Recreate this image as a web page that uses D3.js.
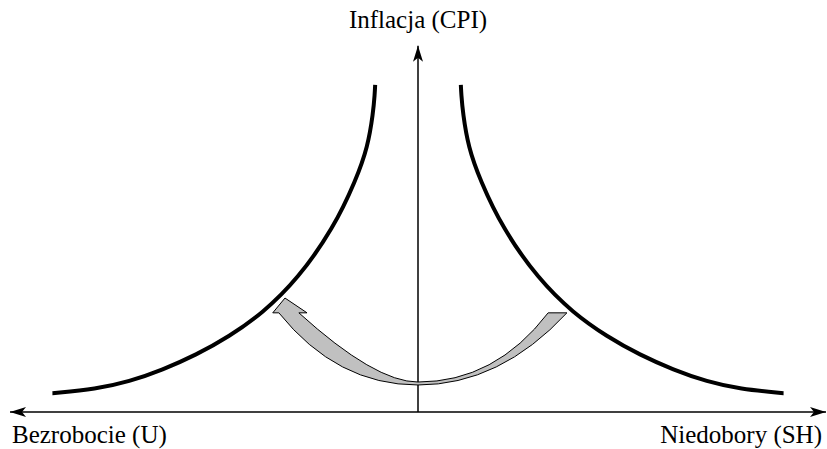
<!DOCTYPE html>
<html>
<head>
<meta charset="utf-8">
<script src="https://cdn.jsdelivr.net/npm/d3@7"></script>
<style>
  html, body { margin: 0; padding: 0; background: #fff; }
  svg { display: block; }
  text { font-family: "Liberation Serif", "DejaVu Serif", serif; fill: #000; }
</style>
</head>
<body>
<div id="chart"></div>
<script>
// curve readings (data units: x = left/right of the CPI axis, y = height above the U/SH axis)
const rightCurveX = [1.05, 1.06, 1.10, 1.23, 1.52, 2.07, 2.95, 3.81, 4.63, 5.44, 6.26, 7.08, 7.89, 8.95, 8.96];
const rightCurveY = [8.84, 8.60, 8.08, 7.17, 6.27, 4.97, 3.59, 2.67, 2.04, 1.54, 1.14, 0.82, 0.62, 0.51, 0.51];
const leftCurveX = [-8.96, -8.95, -7.89, -7.08, -6.26, -5.44, -4.63, -3.81, -2.95, -2.07, -1.52, -1.23, -1.10, -1.06, -1.05];
const leftCurveY = [0.51, 0.51, 0.62, 0.82, 1.14, 1.54, 2.04, 2.67, 3.59, 4.97, 6.27, 7.17, 8.08, 8.60, 8.84];

// grey swoosh arrow: outer / inner edges, control points, arrowhead
const swooshOuter = [[3.65, 2.68], [2.01, 0.73], [0, 0.73], [-1.99, 0.73], [-3.41, 2.68]];
const swooshInner = [[-2.92, 2.68], [-1.05, 0.81], [0, 0.81], [1.89, 0.81], [3.19, 2.68]];
const swooshHead = [[-3.56, 2.68], [-3.26, 3.08], [-2.72, 2.68]];

const axisLabels = ["Inflacja (CPI)", "Bezrobocie (U)", "Niedobory (SH)"];

const width = 827, height = 449;
const svg = d3.select("#chart").append("svg")
  .attr("width", width).attr("height", height);

const x = d3.scaleLinear().domain([-10, 10]).range([10, 826]);
const y = d3.scaleLinear().domain([0, 10]).range([412, 42]);

// arrow markers for the axes
const defs = svg.append("defs");
defs.append("marker")
  .attr("id", "ah")
  .attr("viewBox", "0 0 16 10")
  .attr("refX", 16).attr("refY", 5)
  .attr("markerUnits", "userSpaceOnUse")
  .attr("markerWidth", 16).attr("markerHeight", 10)
  .attr("orient", "auto-start-reverse")
  .append("path")
  .attr("d", "M0,0 L16,5 L0,10 L4,5 Z")
  .attr("fill", "#000");

// horizontal axis (both ways)
svg.append("line")
  .attr("x1", x(-10)).attr("x2", x(10))
  .attr("y1", y(0)).attr("y2", y(0))
  .attr("stroke", "#000").attr("stroke-width", 1.5)
  .attr("marker-start", "url(#ah)")
  .attr("marker-end", "url(#ah)");

// vertical axis
svg.append("line")
  .attr("x1", x(0)).attr("x2", x(0))
  .attr("y1", y(0)).attr("y2", y(9.9))
  .attr("stroke", "#000").attr("stroke-width", 1.5)
  .attr("marker-end", "url(#ah)");

// curves (B-spline to smooth out reading jitter)
const line = d3.line()
  .x(d => x(d[0])).y(d => y(d[1]))
  .curve(d3.curveBasis);

[d3.zip(leftCurveX, leftCurveY), d3.zip(rightCurveX, rightCurveY)].forEach(pts => {
  svg.append("path")
    .attr("d", line(pts))
    .attr("fill", "none")
    .attr("stroke", "#000")
    .attr("stroke-width", 4);
});

// swoosh arrow
const p = d3.path();
const px = d => [x(d[0]), y(d[1])];
const o = swooshOuter.map(px), i = swooshInner.map(px), h = swooshHead.map(px);
p.moveTo(...i[4]);
p.lineTo(...o[0]);
p.quadraticCurveTo(...o[1], ...o[2]);
p.quadraticCurveTo(...o[3], ...o[4]);
p.lineTo(...h[0]);
p.lineTo(...h[1]);
p.lineTo(...h[2]);
p.lineTo(...i[0]);
p.quadraticCurveTo(...i[1], ...i[2]);
p.quadraticCurveTo(...i[3], ...i[4]);
p.closePath();

svg.append("path")
  .attr("d", p.toString())
  .attr("fill", "#c0c0c0")
  .attr("stroke", "#000")
  .attr("stroke-width", 1);

// labels
svg.append("text")
  .attr("x", x(0)).attr("y", 28)
  .attr("text-anchor", "middle")
  .style("font-size", "25px")
  .text(axisLabels[0]);

svg.append("text")
  .attr("x", 12).attr("y", 443)
  .attr("text-anchor", "start")
  .style("font-size", "25px")
  .text(axisLabels[1]);

svg.append("text")
  .attr("x", 822).attr("y", 443)
  .attr("text-anchor", "end")
  .style("font-size", "25px")
  .text(axisLabels[2]);
</script>
</body>
</html>
